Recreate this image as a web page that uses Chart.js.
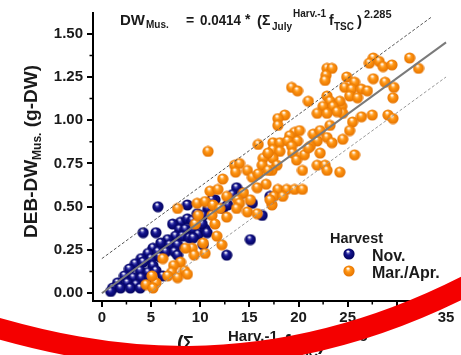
<!DOCTYPE html>
<html>
<head>
<meta charset="utf-8">
<script src="https://cdn.jsdelivr.net/npm/chart.js@4.4.1/dist/chart.umd.min.js"></script>
<style>
  html, body { margin: 0; padding: 0; background: #fff; }
</style>
</head>
<body>
<canvas id="chart" width="461" height="355"></canvas>
<script>
// data
const navyX = [5.7,4.2,5.5,8.7,8.0,8.7,9.2,7.2,7.9,8.5,9.3,7.5,8.2,8.9,9.8,6.7,6.0,6.9,7.7,5.2,4.7,5.7,6.5,7.4,4.0,5.0,5.9,7.7,3.4,4.2,5.2,2.8,3.9,4.7,5.5,2.3,3.2,4.0,4.9,1.6,2.6,3.5,1.1,1.9,2.9,3.9,0.9,6.2,10.5,10.3,13.7,13.3,14.3,11.5,10.8,10.3,12.3,15.3,16.3,17.1,15.1,12.7,9.7,10.2,9.3,10.7,11.2,12.8];
const navyY = [0.50,0.35,0.35,0.51,0.41,0.43,0.42,0.40,0.37,0.37,0.37,0.33,0.33,0.32,0.34,0.31,0.29,0.28,0.28,0.26,0.23,0.24,0.24,0.24,0.20,0.20,0.21,0.22,0.17,0.18,0.16,0.14,0.13,0.12,0.13,0.10,0.09,0.09,0.09,0.06,0.06,0.05,0.03,0.03,0.03,0.03,0.01,0.10,0.37,0.28,0.61,0.57,0.58,0.54,0.49,0.45,0.49,0.52,0.45,0.56,0.31,0.22,0.46,0.40,0.32,0.35,0.54,0.51];

const orangeX = [31.3,32.2,27.6,27.2,28.2,28.6,29.5,27.6,28.8,29.7,29.6,24.9,25.7,24.7,25.4,26.4,27.0,25.2,26.0,24.4,24.5,26.4,27.5,29.1,29.6,25.5,25.2,24.5,25.7,24.2,
  19.3,19.9,22.9,23.4,22.8,22.7,21.0,22.9,23.2,24.2,22.5,23.5,23.9,21.9,22.9,18.6,17.9,17.9,19.6,20.1,19.1,21.5,22.2,23.2,17.4,18.1,18.9,19.9,21.9,22.9,
  17.4,18.1,19.3,21.2,23.4,17.4,17.8,19.4,19.8,20.6,21.0,22.2,21.9,22.7,22.9,20.4,17.3,17.9,18.8,19.6,20.4,17.5,18.4,17.3,
  10.8,15.9,16.4,16.9,13.5,14.0,13.6,14.8,15.3,16.3,16.9,15.9,12.3,16.7,15.8,11.0,11.8,14.4,12.7,13.8,15.1,14.0,13.7,14.8,15.8,17.1,9.7,10.5,11.3,12.0,11.2,11.5,12.7,9.5,11.7,10.3,12.2,10.5,9.2,
  7.7,9.8,8.5,9.4,6.2,8.0,7.3,8.4,7.1,6.7,7.7,8.7,5.5,4.5,5.2,5.1];
const orangeY = [1.36,1.30,1.36,1.33,1.34,1.31,1.32,1.24,1.22,1.19,1.13,1.25,1.22,1.19,1.18,1.18,1.17,1.14,1.13,1.08,1.04,1.02,1.03,1.03,1.01,0.99,0.94,0.89,0.80,0.70,
  1.19,1.17,1.30,1.30,1.26,1.23,1.11,1.14,1.11,1.11,1.08,1.08,1.05,1.04,1.04,1.03,1.01,0.97,0.93,0.94,0.91,0.92,0.94,0.97,0.87,0.87,0.88,0.88,0.88,0.90,
  0.83,0.82,0.85,0.85,0.87,0.78,0.74,0.81,0.77,0.80,0.84,0.81,0.74,0.74,0.71,0.71,0.71,0.60,0.60,0.60,0.60,0.56,0.56,0.51,
  0.82,0.86,0.78,0.81,0.74,0.75,0.70,0.71,0.67,0.74,0.71,0.69,0.66,0.63,0.61,0.59,0.60,0.58,0.56,0.54,0.54,0.52,0.49,0.47,0.46,0.54,0.52,0.53,0.51,0.49,0.45,0.40,0.44,0.40,0.33,0.29,0.28,0.23,0.26,
  0.49,0.45,0.26,0.22,0.20,0.18,0.16,0.13,0.12,0.10,0.09,0.11,0.06,0.05,0.03,0.10];

// fit line and the two dashed bands (end points)
const fitX = [0, 35], fitY = [0, 1.45];
const upperX = [0, 33.6], upperY = [0.2, 1.6];
const lowerX = [4.8, 35], lowerY = [0, 1.25];

const xTicks = [0, 5, 10, 15, 20, 25, 30, 35];
const yTicks = [0, 0.25, 0.5, 0.75, 1.0, 1.25, 1.5];
const xMinor = [2.5, 7.5, 12.5, 17.5, 22.5, 27.5, 32.5];
const yMinor = [0.125, 0.375, 0.625, 0.875, 1.125, 1.375];

const FONT = '"Liberation Sans", Arial, sans-serif';
const pts = (xs, ys) => xs.map((v, i) => ({ x: v, y: ys[i] }));

// shiny ball markers
function ball(light, mid, dark) {
  const c = document.createElement('canvas');
  c.width = 12; c.height = 12;
  const g = c.getContext('2d');
  const grad = g.createRadialGradient(5, 4, 0.5, 6, 6, 6);
  grad.addColorStop(0, light);
  grad.addColorStop(0.35, mid);
  grad.addColorStop(1, dark);
  g.fillStyle = grad;
  g.beginPath(); g.arc(6, 6, 5.6, 0, Math.PI * 2); g.fill();
  g.fillStyle = 'rgba(255,255,255,0.9)';
  g.beginPath(); g.ellipse(5, 3.5, 1.6, 1.1, 0, 0, Math.PI * 2); g.fill();
  return c;
}
const navyBall = ball('#8a8ad8', '#14148e', '#000058');
const orangeBall = ball('#ffd6a0', '#ff9410', '#e27000');

function txt(ctx, s, x, y, size, w) {
  ctx.font = `bold ${size}px ${FONT}`;
  if (w) ctx.fillText(s, x, y, w); else ctx.fillText(s, x, y);
}

const extras = {
  id: 'extras',
  afterDraw(chart) {
    const { ctx, scales: { x, y }, chartArea: a } = chart;
    ctx.save();
    // minor ticks
    ctx.strokeStyle = '#000'; ctx.lineWidth = 1.5;
    ctx.beginPath();
    xMinor.forEach(v => { const p = x.getPixelForValue(v); ctx.moveTo(p, a.bottom); ctx.lineTo(p, a.bottom + 3.5); });
    yMinor.forEach(v => { const p = y.getPixelForValue(v); ctx.moveTo(a.left, p); ctx.lineTo(a.left - 3.5, p); });
    ctx.stroke();

    ctx.fillStyle = '#1a1a1a';
    ctx.textBaseline = 'alphabetic';
    ctx.textAlign = 'left';

    // equation
    txt(ctx, 'DW', 120, 25, 15, 25);
    txt(ctx, 'Mus.', 146, 28, 10, 23);
    txt(ctx, '=', 186, 25, 14, 9);
    txt(ctx, '0.0414', 200, 25, 14, 41);
    txt(ctx, '*', 245, 24, 14, 7);
    txt(ctx, '(', 257, 26, 15, 5);
    txt(ctx, 'Σ', 262, 25, 14, 10);
    txt(ctx, 'July', 272, 30, 10, 21);
    txt(ctx, 'Harv.-1', 293, 17, 10, 36);
    txt(ctx, 'f', 329, 25, 14, 5);
    txt(ctx, 'TSC', 334, 30, 10, 23);
    txt(ctx, ')', 357, 26, 15, 5);
    txt(ctx, '2.285', 364, 18, 11, 33);

    // y title, rotated
    ctx.save();
    ctx.translate(37, 151.5);
    ctx.rotate(-Math.PI / 2);
    const parts = [['DEB-DW', 19, 0], ['Mus.', 12, 4], [' (g-DW)', 19, 0]];
    let tw = 0;
    parts.forEach(p => { ctx.font = `bold ${p[1]}px ${FONT}`; tw += ctx.measureText(p[0]).width; });
    let cx = -tw / 2;
    parts.forEach(p => {
      ctx.font = `bold ${p[1]}px ${FONT}`;
      ctx.fillText(p[0], cx, p[2]);
      cx += ctx.measureText(p[0]).width;
    });
    ctx.restore();

    // x title
    txt(ctx, '(', 177, 350, 20);
    txt(ctx, 'Σ', 183, 349, 18);
    txt(ctx, 'July', 195, 357, 15, 31);
    txt(ctx, 'Harv.-1', 228, 341, 15, 55);
    txt(ctx, 'f', 284, 349, 20, 7);
    txt(ctx, 'TSC', 292, 357, 15, 26);
    txt(ctx, ')', 318, 350, 20);
    txt(ctx, '2.285', 330, 341, 15, 42);

    // legend
    txt(ctx, 'Harvest', 330, 243, 15, 53);
    ctx.drawImage(navyBall, 343, 248);
    ctx.drawImage(orangeBall, 343, 265);
    txt(ctx, 'Nov.', 372, 261, 16);
    txt(ctx, 'Mar./Apr.', 372, 278, 16, 73);

    // red stroke over the bottom
    ctx.strokeStyle = '#f40000';
    ctx.lineWidth = 21;
    ctx.beginPath();
    ctx.moveTo(-10, 326);
    ctx.bezierCurveTo(90, 355, 260, 392, 470, 284);
    ctx.stroke();
    ctx.restore();
  }
};

const axisTicks = { font: { size: 15, weight: 'bold', family: FONT }, color: '#1a1a1a' };

new Chart(document.getElementById('chart'), {
  type: 'scatter',
  data: {
    datasets: [
      { type: 'line', data: pts(fitX, fitY), borderColor: '#7a7a7a', borderWidth: 2, pointRadius: 0, order: 0 },
      { type: 'line', data: pts(upperX, upperY), borderColor: '#555', borderWidth: 1, borderDash: [3, 2], pointRadius: 0, order: 0 },
      { type: 'line', data: pts(lowerX, lowerY), borderColor: '#999', borderWidth: 1, borderDash: [3, 2], pointRadius: 0, order: 0 },
      { label: 'Mar./Apr.', data: pts(orangeX, orangeY), pointStyle: orangeBall, pointRadius: 6, order: 1 },
      { label: 'Nov.', data: pts(navyX, navyY), pointStyle: navyBall, pointRadius: 6, order: 2 }
    ]
  },
  options: {
    responsive: false,
    animation: false,
    layout: { padding: { top: 7, right: 12, left: 0, bottom: 0 } },
    plugins: { legend: { display: false }, tooltip: { enabled: false } },
    scales: {
      x: {
        type: 'linear', min: -0.9, max: 35.3,
        afterBuildTicks: s => { s.ticks = xTicks.map(v => ({ value: v })); },
        afterFit: s => { s.height = 54; },
        ticks: { ...axisTicks, padding: 2, maxRotation: 0, autoSkip: false },
        grid: { drawOnChartArea: false, drawTicks: true, tickLength: 6, color: '#000', lineWidth: 2 },
        border: { display: true, color: '#000', width: 2 }
      },
      y: {
        type: 'linear', min: -0.045, max: 1.62,
        afterBuildTicks: s => { s.ticks = yTicks.map(v => ({ value: v })); },
        afterFit: s => { s.width = 93; },
        ticks: { ...axisTicks, padding: 4, autoSkip: false, callback: v => v.toFixed(2) },
        grid: { drawOnChartArea: false, drawTicks: true, tickLength: 6, color: '#000', lineWidth: 2 },
        border: { display: true, color: '#000', width: 2 }
      }
    }
  },
  plugins: [extras]
});
</script>
</body>
</html>
